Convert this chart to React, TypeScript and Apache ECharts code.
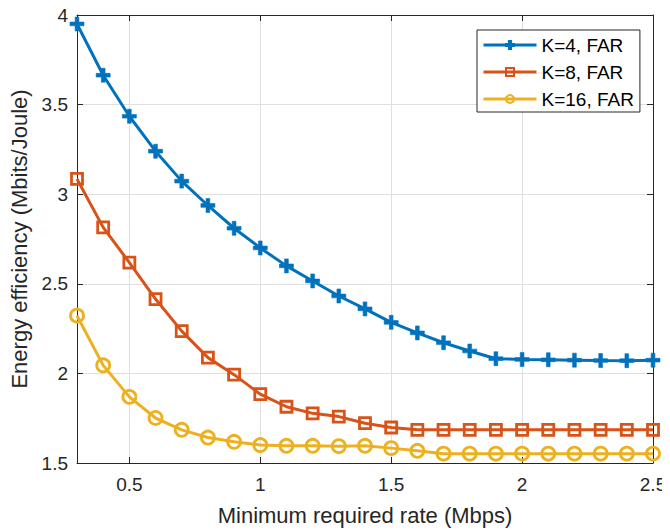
import React, { useEffect, useRef } from "react";
import * as echarts from "echarts";

const rates = [0.3, 0.4, 0.5, 0.6, 0.7, 0.8, 0.9, 1.0, 1.1, 1.2, 1.3, 1.4, 1.5, 1.6, 1.7, 1.8, 1.9, 2.0, 2.1, 2.2, 2.3, 2.4, 2.5];
const k4Far = [3.95, 3.664, 3.435, 3.24, 3.073, 2.937, 2.81, 2.70, 2.60, 2.516, 2.432, 2.36, 2.285, 2.226, 2.171, 2.125, 2.082, 2.078, 2.076, 2.074, 2.072, 2.071, 2.074];
const k8Far = [3.085, 2.815, 2.618, 2.415, 2.236, 2.088, 1.993, 1.884, 1.814, 1.777, 1.759, 1.722, 1.698, 1.685, 1.685, 1.685, 1.685, 1.685, 1.685, 1.685, 1.685, 1.685, 1.685];
const k16Far = [2.322, 2.045, 1.869, 1.751, 1.685, 1.642, 1.618, 1.600, 1.596, 1.596, 1.594, 1.596, 1.583, 1.568, 1.552, 1.552, 1.552, 1.552, 1.552, 1.552, 1.552, 1.552, 1.552];
const xTicks = [0.5, 1, 1.5, 2, 2.5];
const seriesNames = ["K=4, FAR", "K=8, FAR", "K=16, FAR"];

const FONT = "'Liberation Sans', Arial, Helvetica, sans-serif";
const TXT = "#262626";
const PLUS = "path://M4.4,0H7.6V4.4H12V7.6H7.6V12H4.4V7.6H0V4.4H4.4Z";

export default function App() {
  const ref = useRef<HTMLDivElement>(null);
  useEffect(() => {
    if (!ref.current) return;
    const chart = echarts.init(ref.current, undefined, { renderer: "svg" });
    const pair = (ys: number[]) => rates.map((x, i) => [x, ys[i]]);
    const axisLineStyle = { color: TXT, width: 1 };
    const mk = (name: string, ys: number[], color: string, symbol: string, size: number, filled: boolean) => ({
      type: "line",
      name,
      data: pair(ys),
      symbol,
      symbolSize: size,
      showAllSymbol: true,
      clip: false,
      lineStyle: { color, width: 3 },
      itemStyle: filled
        ? { color, borderColor: color, borderWidth: 0.6 }
        : { color: "rgba(255,255,255,0)", borderColor: color, borderWidth: 2.8 },
      emphasis: { disabled: true },
    });
    chart.setOption({
      animation: false,
      textStyle: { fontFamily: FONT },
      grid: { left: 77, right: 17, top: 15, bottom: 65, containLabel: false },
      legend: {
        orient: "vertical",
        left: 477,
        top: 30,
        data: seriesNames,
        backgroundColor: "#fff",
        borderColor: TXT,
        borderWidth: 1,
        borderRadius: 0,
        padding: [5, 6, 3, 5],
        itemWidth: 53,
        itemHeight: 10,
        itemGap: 7,
        itemTextGap: 4,
        lineStyle: { width: 3 },
        textStyle: { fontFamily: FONT, fontSize: 19, color: "#000", lineHeight: 20 },
      },
      xAxis: [
        {
          type: "value",
          min: 0.3,
          max: 2.5,
          position: "bottom",
          name: "Minimum required rate (Mbps)",
          nameLocation: "middle",
          nameGap: 41,
          nameTextStyle: { fontFamily: FONT, fontSize: 22, color: TXT },
          axisLine: { show: true, onZero: false, lineStyle: axisLineStyle },
          axisTick: { show: true, inside: true, length: 6, lineStyle: axisLineStyle, customValues: xTicks },
          axisLabel: { show: true, margin: 12, fontFamily: FONT, fontSize: 19, color: TXT, customValues: xTicks, formatter: (v: number) => String(v) },
          splitLine: { show: true, lineStyle: { color: "#DFDFDF", width: 1 } },
        },
        {
          type: "value",
          min: 0.3,
          max: 2.5,
          position: "top",
          axisLine: { show: true, onZero: false, lineStyle: axisLineStyle },
          axisTick: { show: true, inside: true, length: 6, lineStyle: axisLineStyle, customValues: xTicks },
          axisLabel: { show: false, customValues: xTicks },
          splitLine: { show: false },
        },
      ],
      yAxis: [
        {
          type: "value",
          min: 1.5,
          max: 4,
          interval: 0.5,
          position: "left",
          name: "Energy efficiency (Mbits/Joule)",
          nameLocation: "middle",
          nameGap: 46,
          nameRotate: 90,
          nameTextStyle: { fontFamily: FONT, fontSize: 22, color: TXT },
          axisLine: { show: true, onZero: false, lineStyle: axisLineStyle },
          axisTick: { show: true, inside: true, length: 6, lineStyle: axisLineStyle },
          axisLabel: { show: true, margin: 9, fontFamily: FONT, fontSize: 19, color: TXT, formatter: (v: number) => String(v) },
          splitLine: { show: true, lineStyle: { color: "#DFDFDF", width: 1 } },
        },
        {
          type: "value",
          min: 1.5,
          max: 4,
          interval: 0.5,
          position: "right",
          axisLine: { show: true, onZero: false, lineStyle: axisLineStyle },
          axisTick: { show: true, inside: true, length: 6, lineStyle: axisLineStyle },
          axisLabel: { show: false },
          splitLine: { show: false },
        },
      ],
      series: [
        mk(seriesNames[0], k4Far, "#0072BD", PLUS, 14, true),
        mk(seriesNames[1], k8Far, "#D95319", "rect", 11, false),
        mk(seriesNames[2], k16Far, "#EDB120", "circle", 13, false),
      ],
    });
    return () => chart.dispose();
  }, []);
  return <div ref={ref} style={{ width: 670, height: 531, marginLeft: -8, marginTop: -8 }} />;
}
